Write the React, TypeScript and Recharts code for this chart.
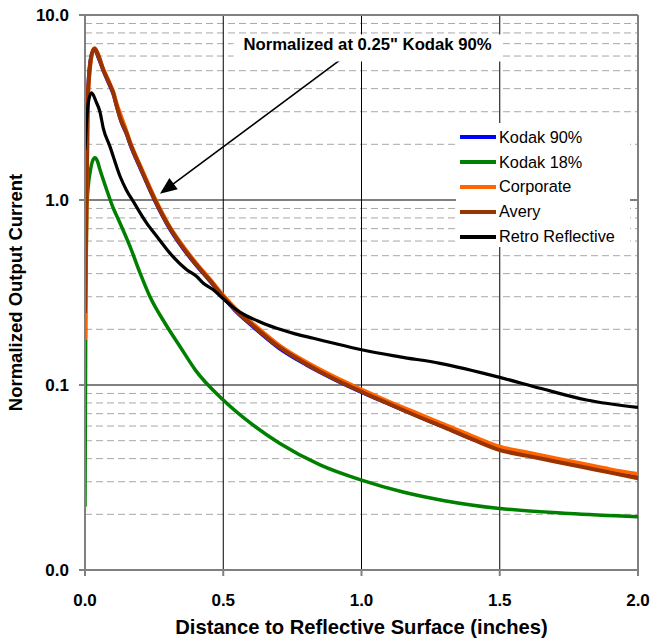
import React from 'react';
import { LineChart, Line, XAxis, YAxis, ReferenceLine, ReferenceDot, Legend } from 'recharts';

const FONT = '"Liberation Sans", Arial, Helvetica, sans-serif';

const seriesNames = ['Kodak 90%', 'Kodak 18%', 'Corporate', 'Avery', 'Retro Reflective'];
const seriesColors = ['#0000FF', '#008000', '#FF6600', '#993300', '#000000'];
const seriesWidths = [3, 3.5, 4, 4, 3.2];

// White-target curves share a distance grid (inches)
const whiteX = [0, 0.01, 0.02, 0.03, 0.035, 0.045, 0.065, 0.09, 0.102, 0.115, 0.13, 0.15, 0.163, 0.2, 0.25, 0.283, 0.3, 0.35, 0.4, 0.45, 0.5, 0.55, 0.6, 0.7, 0.8, 0.9, 1.0, 1.1, 1.2, 1.3, 1.4, 1.5, 1.6, 1.7, 1.8, 1.9, 2.0];
const kodak90Y = [0.2, 4.0, 5.9, 6.4, 6.45, 6.0, 5.0, 4.1, 3.7, 3.15, 2.65, 2.25, 1.98, 1.47, 1.0, 0.8, 0.72, 0.555, 0.445, 0.365, 0.297, 0.245, 0.21, 0.158, 0.128, 0.107, 0.091, 0.0785, 0.0678, 0.0588, 0.0508, 0.0452, 0.042, 0.039, 0.0365, 0.034, 0.0318];
const corporateY = [0.175, 3.3, 5.5, 6.45, 6.6, 6.25, 5.15, 4.25, 3.85, 3.3, 2.85, 2.35, 2.06, 1.53, 1.04, 0.83, 0.745, 0.575, 0.46, 0.376, 0.305, 0.254, 0.219, 0.165, 0.133, 0.111, 0.0945, 0.081, 0.0705, 0.061, 0.053, 0.0464, 0.0432, 0.0402, 0.0375, 0.035, 0.033];
const averyY = [0.245, 3.5, 5.6, 6.5, 6.6, 6.2, 5.1, 4.2, 3.8, 3.2, 2.7, 2.3, 2.03, 1.5, 1.02, 0.815, 0.735, 0.565, 0.452, 0.37, 0.3, 0.248, 0.214, 0.161, 0.13, 0.108, 0.092, 0.079, 0.068, 0.059, 0.051, 0.0445, 0.0414, 0.0386, 0.036, 0.0336, 0.0313];

const kodak18X = [0, 0.003, 0.006, 0.012, 0.018, 0.027, 0.036, 0.045, 0.054, 0.078, 0.102, 0.12, 0.163, 0.2, 0.235, 0.29, 0.344, 0.4, 0.5, 0.6, 0.705, 0.85, 1.0, 1.15, 1.3, 1.5, 1.75, 2.0];
const kodak18Y = [0.022, 0.3, 0.85, 1.2, 1.4, 1.62, 1.69, 1.62, 1.46, 1.14, 0.905, 0.79, 0.56, 0.4, 0.3, 0.215, 0.161, 0.12, 0.083, 0.062, 0.0483, 0.037, 0.0306, 0.0264, 0.0237, 0.0215, 0.0202, 0.0194];

const retroX = [0, 0.006, 0.015, 0.024, 0.04, 0.054, 0.066, 0.09, 0.127, 0.15, 0.175, 0.223, 0.26, 0.307, 0.368, 0.404, 0.428, 0.464, 0.5, 0.54, 0.585, 0.625, 0.66, 0.705, 0.76, 0.826, 0.9, 1.0, 1.139, 1.284, 1.5, 1.646, 1.814, 2.0];
const retroY = [1.87, 2.72, 3.55, 3.8, 3.4, 3.0, 2.45, 1.95, 1.34, 1.13, 0.98, 0.75, 0.635, 0.516, 0.42, 0.386, 0.355, 0.327, 0.292, 0.26, 0.236, 0.222, 0.211, 0.2, 0.189, 0.179, 0.168, 0.155, 0.142, 0.131, 0.11, 0.096, 0.083, 0.0757];

const xTicks = [0, 0.5, 1, 1.5, 2];
const yTicks = [0.01, 0.1, 1, 10];
const xGrid = [0.5, 1, 1.5];
const yMajorGrid = [0.1, 1];
const yMinorGrid = [0.02, 0.03, 0.04, 0.05, 0.06, 0.07, 0.08, 0.09, 0.2, 0.3, 0.4, 0.5, 0.6, 0.7, 0.8, 0.9, 2, 3, 4, 5, 6, 7, 8, 9];

const annotationText = 'Normalized at 0.25" Kodak 90%';
const annotationAt = { x: 1.022, y: 6.93 };
const arrowFrom = { x: 0.94, y: 5.97 };
const arrowTo = { x: 0.271, y: 1.08 };

const toPoints = (xs: number[], ys: number[]) => xs.map((x, i) => ({ x, y: ys[i] }));

const seriesData = [
  toPoints(whiteX, kodak90Y),
  toPoints(kodak18X, kodak18Y),
  toPoints(whiteX, corporateY),
  toPoints(whiteX, averyY),
  toPoints(retroX, retroY),
];

const GRAY = '#808080';

const ArrowShape = (p: any) => {
  const { x1, y1, x2, y2 } = p;
  const dx = x2 - x1;
  const dy = y2 - y1;
  const len = Math.sqrt(dx * dx + dy * dy) || 1;
  const ux = dx / len;
  const uy = dy / len;
  const L = 17;
  const W = 7;
  const bx = x2 - ux * L;
  const by = y2 - uy * L;
  const pts = `${x2},${y2} ${bx - uy * W},${by + ux * W} ${bx + uy * W},${by - ux * W}`;
  return (
    <g>
      <line x1={x1} y1={y1} x2={bx + ux * 2} y2={by + uy * 2} stroke="#000" strokeWidth={1.6} />
      <polygon points={pts} fill="#000" />
    </g>
  );
};

const AnnotationShape = (p: any) => {
  const { cx, cy } = p;
  return (
    <g>
      <rect x={cx - 134} y={cy - 10} width={268} height={27} fill="#fff" />
      <text x={cx} y={cy + 6} textAnchor="middle" fontFamily={FONT} fontWeight="bold" fontSize={16.7} fill="#000">
        {annotationText}
      </text>
    </g>
  );
};

const LegendContent = () => (
  <div style={{ width: '100%', height: '100%', background: '#fff', paddingTop: 2, boxSizing: 'border-box' }}>
    {seriesNames.map((n, i) => (
      <div key={n} style={{ display: 'flex', alignItems: 'center', height: 24.8, fontFamily: FONT, fontSize: 16.3, color: '#000', whiteSpace: 'nowrap' }}>
        <span style={{ display: 'inline-block', width: 36, height: 4, background: seriesColors[i], marginLeft: 4, marginRight: 3 }} />
        <span>{n}</span>
      </div>
    ))}
  </div>
);

export default function App() {
  return (
    <div style={{ position: 'absolute', left: 0, top: 0, width: 653, height: 642, background: '#fff' }}>
      <LineChart width={653} height={642} margin={{ top: 15, right: 15, left: 0, bottom: 0 }}>
        <XAxis
          type="number"
          dataKey="x"
          domain={[0, 2]}
          ticks={xTicks}
          allowDataOverflow
          height={72}
          stroke={GRAY}
          strokeWidth={2}
          tickSize={6}
          tickMargin={18}
          tick={{ fontFamily: FONT, fontWeight: 'bold', fontSize: 17, fill: '#000' }}
          tickFormatter={(v: number) => v.toFixed(1)}
          label={{
            content: (props: any) => {
              const vb = props.viewBox || { x: 85, width: 553 };
              return (
                <text x={vb.x + vb.width / 2} y={634} textAnchor="middle" fontFamily={FONT} fontWeight="bold" fontSize={20.2} fill="#000">
                  Distance to Reflective Surface (inches)
                </text>
              );
            },
          }}
        />
        <YAxis
          type="number"
          dataKey="y"
          scale="log"
          domain={[0.01, 10]}
          ticks={yTicks}
          allowDataOverflow
          width={85}
          stroke={GRAY}
          strokeWidth={2}
          tickSize={6}
          tickMargin={10}
          tick={{ fontFamily: FONT, fontWeight: 'bold', fontSize: 17, fill: '#000' }}
          tickFormatter={(v: number) => v.toFixed(1)}
          label={{
            content: (props: any) => {
              const vb = props.viewBox || { y: 15, height: 555 };
              const cy = vb.y + vb.height / 2;
              return (
                <text x={22} y={cy} transform={`rotate(-90 22 ${cy})`} textAnchor="middle" fontFamily={FONT} fontWeight="bold" fontSize={18.5} fill="#000">
                  Normalized Output Current
                </text>
              );
            },
          }}
        />
        {yMinorGrid.map((v) => (
          <ReferenceLine key={'m' + v} y={v} stroke="#a8a8a8" strokeWidth={1} strokeDasharray="7 4" />
        ))}
        {yMajorGrid.map((v) => (
          <ReferenceLine key={'M' + v} y={v} stroke="#000" strokeWidth={1} />
        ))}
        {xGrid.map((v) => (
          <ReferenceLine key={'v' + v} x={v} stroke="#000" strokeWidth={1} />
        ))}
        <ReferenceLine y={10} stroke={GRAY} strokeWidth={2} />
        <ReferenceLine x={2} stroke={GRAY} strokeWidth={2} />
        <ReferenceDot x={annotationAt.x} y={annotationAt.y} shape={AnnotationShape} />
        <ReferenceLine segment={[arrowFrom, arrowTo]} shape={ArrowShape} />
        {seriesData.map((d, i) => (
          <Line
            key={seriesNames[i]}
            data={d}
            dataKey="y"
            name={seriesNames[i]}
            type="monotone"
            stroke={seriesColors[i]}
            strokeWidth={seriesWidths[i]}
            dot={false}
            isAnimationActive={false}
          />
        ))}
        <Legend
          layout="vertical"
          align="center"
          verticalAlign="middle"
          content={LegendContent}
          wrapperStyle={{ position: 'absolute', left: 456, top: 123, width: 174, height: 124, margin: 0 }}
        />
      </LineChart>
    </div>
  );
}
